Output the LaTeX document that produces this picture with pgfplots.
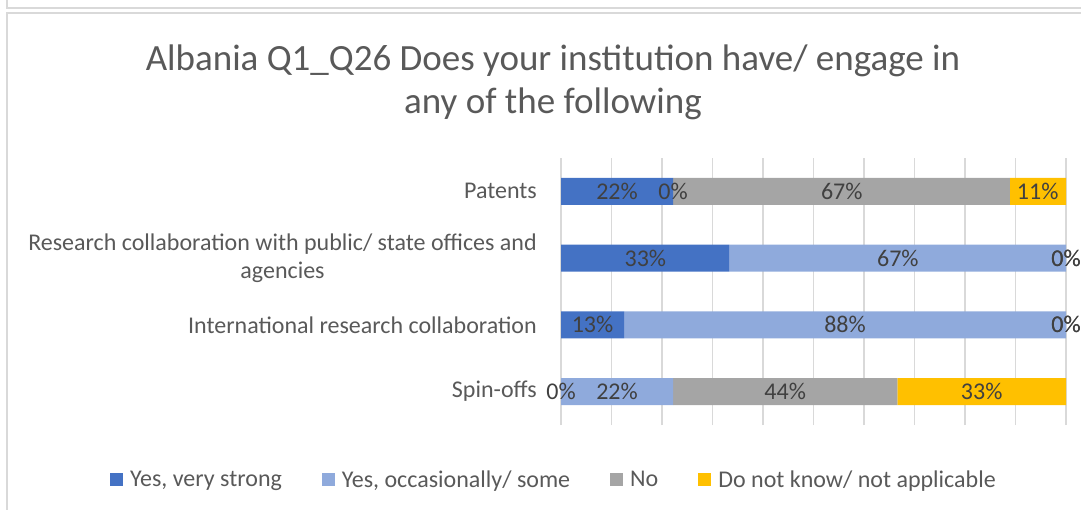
\documentclass[border=0pt]{standalone}
\usepackage{pgfplots}
\pgfplotsset{compat=1.18}
\usepackage{fontspec}
\setmainfont{Carlito}

\definecolor{darkblue}{HTML}{4472C4}
\definecolor{lightblue}{HTML}{8FAADC}
\definecolor{midgray}{HTML}{A5A5A5}
\definecolor{gold}{HTML}{FFC000}
\definecolor{txtgray}{HTML}{595959}
\definecolor{lblgray}{HTML}{404040}
\definecolor{gridgray}{HTML}{D9D9D9}

\begin{document}
\begin{tikzpicture}[x=1pt,y=1pt]
\useasboundingbox (0,0) rectangle (1081,509);

% chart frames
\draw[gridgray, line width=1.5pt] (7,512) -- (7,501) -- (1090,501);
\draw[gridgray, line width=1.5pt] (7,-5) -- (7,496) -- (1090,496);

\node[text=txtgray, font=\fontsize{37}{43}\selectfont, align=center] at (553,427)
  {Albania Q1\_Q26 Does your institution have/ engage in\\any of the following};

\begin{axis}[
  at={(561pt,84pt)}, anchor=south west,
  scale only axis, width=505pt, height=267pt,
  xbar stacked, bar width=27pt,
  xmin=0, xmax=100, ymin=-0.5, ymax=3.5,
  xtick={0,10,...,100}, xticklabels={},
  ytick={0,1,2,3},
  yticklabels={Spin-offs, International research collaboration,
    {Research collaboration with public/ state offices and\\agencies}, Patents},
  yticklabel style={font=\fontsize{24}{28}\selectfont, text=txtgray, align=center,
    inner sep=0pt, xshift=-24pt},
  xmajorgrids, grid style={gridgray, line width=1.5pt},
  axis line style={draw=none}, tick style={draw=none},
  legend columns=4,
  legend image code/.code={\fill[#1] (0pt,-6.5pt) rectangle (13pt,6.5pt);},
  legend style={at={(-0.0139,-0.204)}, anchor=center, draw=none, fill=none,
    font=\fontsize{24}{28}\selectfont, text=txtgray, inner sep=0pt,
    /tikz/every odd column/.append style={column sep=5pt},
    /tikz/every even column/.append style={column sep=38pt}},
]
\addplot[fill=darkblue, draw=none] coordinates {(0,0) (12.5,1) (33.3,2) (22.2,3)};
\addplot[fill=lightblue, draw=none] coordinates {(22.2,0) (87.5,1) (66.7,2) (0,3)};
\addplot[fill=midgray, draw=none] coordinates {(44.4,0) (0,1) (0,2) (66.7,3)};
\addplot[fill=gold, draw=none] coordinates {(33.4,0) (0,1) (0,2) (11.1,3)};
\legend{{Yes, very strong}, {Yes, occasionally/ some}, No, Do not know/ not applicable}
\end{axis}

% data labels, centred in each segment
\begin{axis}[
  at={(561pt,84pt)}, anchor=south west,
  scale only axis, width=505pt, height=267pt,
  xmin=0, xmax=100, ymin=-0.5, ymax=3.5,
  hide axis, clip=false,
]
\addplot[draw=none, mark=none, point meta=explicit symbolic,
  nodes near coords={\pgfplotspointmeta\%}, nodes near coords align=center,
  every node near coord/.append style={font=\fontsize{24}{28}\selectfont,
    text=lblgray, anchor=center}]
  table[meta=lab] {
x y lab
11.1 3 22
22.2 3 0
55.6 3 67
94.4 3 11
16.7 2 33
66.7 2 67
100 2 0
100 2 0
6.25 1 13
56.25 1 88
100 1 0
100 1 0
0 0 0
11.1 0 22
44.4 0 44
83.3 0 33
};
\end{axis}
\end{tikzpicture}
\end{document}
